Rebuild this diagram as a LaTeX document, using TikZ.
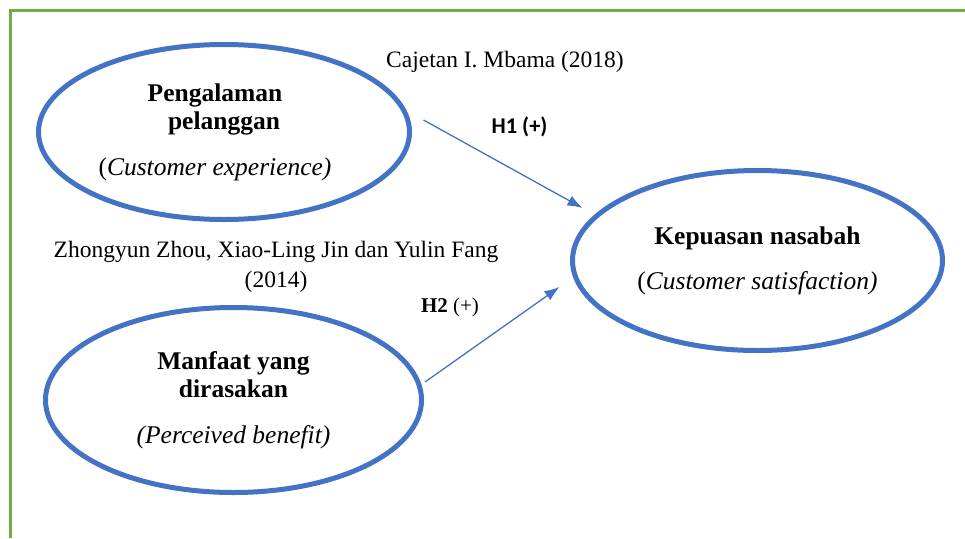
\documentclass[tikz,border=0pt]{standalone}
\usepackage{fontspec}
\setmainfont{Liberation Serif}
\newfontfamily\calibri{Carlito}
\usetikzlibrary{arrows.meta,positioning,shapes.geometric}
\definecolor{wordblue}{RGB}{68,114,196}
\definecolor{wordgreen}{RGB}{112,173,71}

\begin{document}
\begin{tikzpicture}[
  x=1pt, y=-1pt,
  construct/.style={draw=wordblue, ellipse, line width=5pt, inner sep=0pt, align=center, font=\fontsize{25.5}{28}\selectfont},
  cite/.style={align=center, font=\fontsize{23.5}{30}\selectfont},
  hyp/.style={anchor=base, font=\fontsize{21}{25}\selectfont},
  arr/.style={-{Latex[length=15pt,width=11pt]}, draw=wordblue, line width=1.3pt}
]
\useasboundingbox (0,0) rectangle (965,538);
\draw[wordgreen, line width=3pt] (965,10) -- (10,10) -- (10,538);

\node[construct, minimum width=371pt, minimum height=175pt] (exp) at (224,132) {\textbf{Pengalaman}\hspace*{18pt}\\\textbf{pelanggan}\hspace*{18pt}\\[18pt](\textit{Customer experience)}\hspace*{18pt}};
\node[construct, minimum width=376pt, minimum height=185pt] (ben) at (233.5,400) {\textbf{Manfaat yang}\\\textbf{dirasakan}\\[18pt]\textit{(Perceived benefit)}};
\node[construct, minimum width=370pt, minimum height=180pt] (sat) at (757.5,260.5) {\textbf{Kepuasan nasabah}\\[17pt](\textit{Customer satisfaction)}};

\node[cite, anchor=base] (mbama) at (505,67) {Cajetan I. Mbama (2018)};
\node[cite] (zhou) at (276,267) {Zhongyun Zhou, Xiao-Ling Jin dan Yulin Fang\\(2014)};
\node[hyp, font=\calibri\bfseries\fontsize{22.5}{26}\selectfont] (h1) at (519.5,133) {H1 (+)};
\node[hyp] (h2) at (450,312) {\textbf{H2} (+)};

\draw[arr] ([shift={(11.5,-12)}]exp.east) -- ([shift={(12.5,-52.5)}]sat.west);
\draw[arr] ([shift={(1,-18)}]ben.east) -- ([shift={(-10.5,26.5)}]sat.west);
\end{tikzpicture}
\end{document}
